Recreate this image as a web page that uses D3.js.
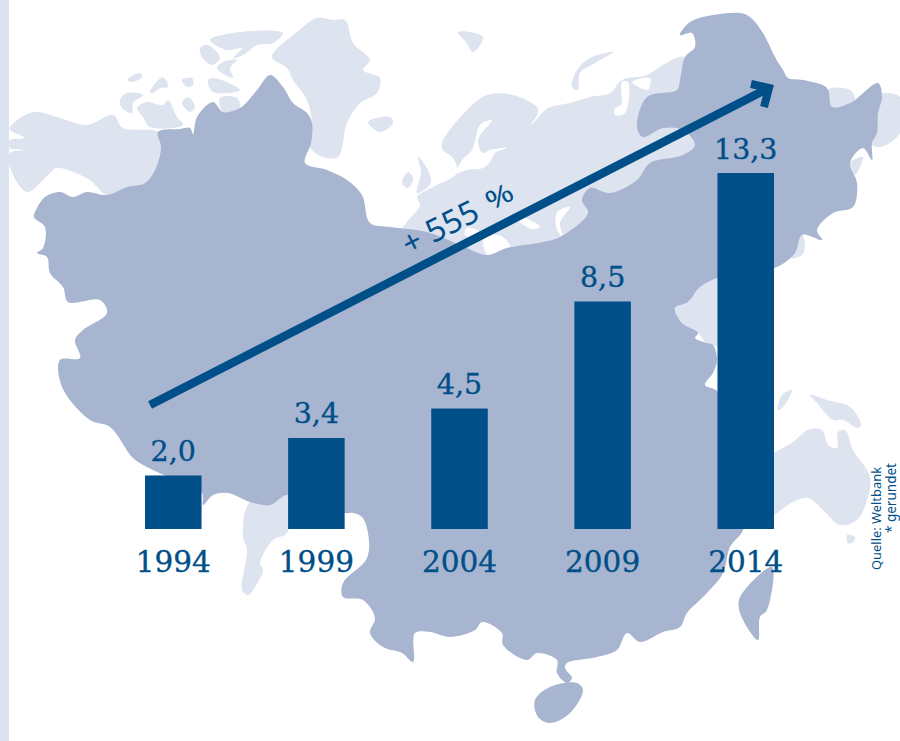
<!DOCTYPE html>
<html lang="de">
<head>
<meta charset="utf-8">
<script src="https://cdnjs.cloudflare.com/ajax/libs/d3/7.8.5/d3.min.js"></script>
<style>
  html, body { margin: 0; padding: 0; background: #fff; overflow: hidden; }
  svg { display: block; }
</style>
</head>
<body>
<script>
// Series
const years = ["1994", "1999", "2004", "2009", "2014"];
const values = [2.0, 3.4, 4.5, 8.5, 13.3];
const valueLabels = ["2,0", "3,4", "4,5", "8,5", "13,3"];
const growthValue = "+ 555";
const growthUnit = "%";
const sourceNote = "Quelle: Weltbank";
const roundingNote = "* gerundet";

// Backdrop map outlines, in page pixels
const china = [[34,217],[37,208],[45,197],[60,192],[73,197],[87,192],[107,195],[127,187],[145,183],[155,170],[161,147],[158,132],[180,129],[190,128],[193,134],[197,117],[213,102],[223,112],[240,108],[257,90],[270,75],[283,87],[293,103],[307,113],[312,123],[311,143],[305,163],[327,170],[347,180],[362,195],[370,223],[390,227],[427,232],[460,245],[487,255],[507,248],[543,242],[560,237],[588,213],[582,200],[590,188],[610,193],[637,180],[650,163],[683,155],[695,145],[683,130],[663,128],[643,137],[637,127],[647,97],[677,90],[680,80],[685,57],[695,47],[692,33],[680,35],[690,22],[713,15],[740,13],[750,17],[763,33],[775,57],[783,70],[788,78],[803,80],[827,88],[832,107],[850,103],[878,83],[882,97],[878,113],[877,133],[872,143],[872,160],[863,148],[850,163],[857,183],[853,207],[833,213],[817,230],[822,240],[802,235],[795,253],[777,267],[745,272],[717,278],[700,287],[688,302],[675,308],[682,323],[698,333],[695,338],[707,343],[713,345],[717,360],[713,373],[705,385],[718,392],[745,500],[743,530],[730,547],[723,573],[707,593],[687,613],[680,627],[663,632],[640,642],[627,633],[617,650],[597,657],[567,663],[565,668],[572,678],[567,683],[557,673],[557,660],[537,653],[527,660],[503,645],[502,633],[482,622],[475,630],[450,637],[430,632],[415,633],[413,662],[402,653],[383,647],[370,633],[375,618],[363,600],[343,597],[343,583],[367,558],[368,533],[362,517],[353,513],[345,513],[320,505],[287,495],[270,505],[250,502],[228,493],[213,495],[203,505],[202,493],[175,480],[147,467],[133,458],[110,427],[90,420],[62,387],[60,360],[80,358],[75,340],[83,330],[107,313],[100,300],[68,302],[63,287],[50,273],[47,257],[37,253],[43,248],[45,227]];
const hainan = [[535,700],[550,687],[577,683],[583,690],[570,713],[550,723],[538,717]];
const taiwan = [[772,567],[740,597],[740,613],[758,640],[760,617],[767,610]];

const neighbours = [
  // Western landmass and northern island groups
  [[10,127],[33,112],[57,117],[87,125],[113,115],[123,128],[158,132],[161,147],[155,170],[145,183],[127,187],[107,195],[97,187],[90,180],[57,168],[48,175],[27,192],[10,167],[10,153],[23,150],[10,148],[10,140],[25,138],[10,130]],
  [[272,57],[297,32],[317,18],[333,20],[345,20],[353,43],[370,60],[363,70],[380,78],[377,93],[360,103],[347,123],[338,157],[323,157],[310,147],[312,123],[307,100],[293,80],[287,68]],
  [[127,80],[140,73],[142,77],[132,82]],
  [[150,92],[163,77],[168,87],[160,88],[153,93]],
  [[182,80],[192,78],[193,85],[187,87]],
  [[120,100],[127,93],[143,95],[133,103],[132,113],[122,108]],
  [[137,108],[147,102],[163,105],[168,100],[177,117],[183,125],[150,127],[143,117]],
  [[182,103],[188,97],[195,107],[190,112]],
  [[200,48],[208,45],[220,58],[212,65],[202,57]],
  [[210,40],[240,32],[283,33],[273,43],[257,45],[243,55],[233,58],[242,48],[227,50]],
  [[223,62],[237,60],[230,68],[233,78],[217,68]],
  [[208,80],[213,78],[233,85],[240,90],[213,92]],
  [[220,98],[237,98],[240,108],[223,112]],
  [[368,122],[390,117],[393,123],[380,132]],
  [[418,157],[425,165],[431,183],[417,193],[421,172]],
  [[408,172],[402,183],[408,188],[413,178]],
  [[458,32],[483,37],[473,52],[466,42]],
  [[613,52],[590,58],[577,70],[572,87],[578,90],[580,73],[595,63]],
  // Europe and western Russia
  [[402,231],[407,222],[420,205],[417,197],[433,187],[457,173],[453,158],[443,150],[442,143],[467,110],[487,95],[513,95],[537,107],[538,113],[528,125],[518,114],[530,124],[548,108],[570,103],[590,97],[610,93],[622,80],[647,75],[663,65],[685,57],[720,100],[720,170],[690,180],[600,240],[560,245],[507,255],[487,258],[460,250],[427,238]],
  // Eastern seaboard
  [[828,90],[850,90],[855,100],[833,112]],
  [[878,95],[900,97],[900,133],[880,147],[870,143],[878,113]],
  [[850,163],[863,157],[862,162],[855,175]],
  [[802,235],[805,243],[802,255],[790,258]],
  [[717,278],[700,287],[688,302],[675,308],[682,323],[698,333],[707,343],[725,345],[725,278]],
  // Indian subcontinent
  [[250,502],[243,537],[247,550],[242,590],[248,595],[255,587],[263,570],[260,563],[273,540],[287,533],[288,495]],
  // Australia, New Guinea and Tasmania
  [[765,462],[793,442],[808,430],[822,430],[828,445],[837,448],[838,432],[845,430],[853,450],[870,477],[867,500],[857,520],[840,525],[823,510],[808,498],[793,502],[765,518]],
  [[847,535],[855,537],[852,543],[848,543]],
  [[810,395],[827,400],[850,407],[861,425],[858,428],[843,420],[833,420],[817,403]],
  [[778,410],[782,395],[792,390],[783,407]]
];

// Seas and inlets cut out of the landmass
const seas = [
  [[492,120],[478,140],[483,153],[490,150],[507,148],[495,153],[490,162],[483,168],[467,170],[457,173],[462,160],[472,150],[480,125]],
  [[557,212],[570,207],[560,223],[563,237],[557,230]],
  [[513,216],[523,217],[540,227],[532,229]],
  [[483,243],[485,236],[501,236],[510,247],[490,258]],
  [[467,228],[480,232],[478,238],[465,235]],
  [[615,115],[625,113],[628,82],[622,82],[621,105],[615,108]],
  [[632,82],[648,90],[650,78]]
];

const width = 900, height = 741;
const colours = { ink: "#004f88", china: "#a7b5d1", land: "#dde3ef", strip: "#dce3f0" };

const svg = d3.select("body").append("svg")
  .attr("width", width).attr("height", height)
  .attr("viewBox", [0, 0, width, height]);

svg.append("rect").attr("width", 9).attr("height", height).attr("fill", colours.strip);

// Map layers: land, cut-out seas, then China on top
const outline = d3.line().curve(d3.curveCatmullRomClosed.alpha(0.5));
const map = svg.append("g");
map.selectAll("path.land").data(neighbours).join("path")
  .attr("class", "land").attr("d", outline).attr("fill", colours.land);
map.selectAll("path.sea").data(seas).join("path")
  .attr("class", "sea").attr("d", outline).attr("fill", "#fff");
map.selectAll("path.china").data([china, hainan, taiwan]).join("path")
  .attr("class", "china").attr("d", outline).attr("fill", colours.china);

// Bars
const x = d3.scaleBand().domain(years).range([145, 774]).paddingInner(0.605);
const y = d3.scaleLinear().domain([0, 13.3]).range([529, 173]);
const rows = years.map((year, i) => ({ year, value: values[i], label: valueLabels[i] }));

svg.selectAll("rect.bar").data(rows).join("rect")
  .attr("class", "bar")
  .attr("x", d => x(d.year))
  .attr("y", d => y(d.value))
  .attr("width", x.bandwidth())
  .attr("height", d => y(0) - y(d.value))
  .attr("fill", colours.ink);

const serif = "'DejaVu Serif', serif";
svg.selectAll("text.value").data(rows).join("text")
  .attr("class", "value")
  .attr("x", d => x(d.year) + x.bandwidth() / 2)
  .attr("y", d => y(d.value) - 14.5)
  .attr("text-anchor", "middle")
  .attr("font-family", serif).attr("font-size", 28.5)
  .attr("fill", colours.ink).attr("stroke", colours.ink).attr("stroke-width", 0.35)
  .text(d => d.label);

// Category axis drawn without a domain line or ticks
const axis = svg.append("g")
  .attr("transform", `translate(0, 529)`)
  .call(d3.axisBottom(x).tickSize(0).tickPadding(0));
axis.select(".domain").remove();
axis.selectAll("text")
  .attr("y", 43).attr("dy", 0)
  .attr("font-family", serif).attr("font-size", 29.5)
  .attr("fill", colours.ink).attr("stroke", colours.ink).attr("stroke-width", 0.35);

// Growth arrow across the bars
const arrowStart = [150, 405], arrowEnd = [769, 88];
const angle = Math.atan2(arrowEnd[1] - arrowStart[1], arrowEnd[0] - arrowStart[0]) * 180 / Math.PI;
const arrow = svg.append("g").attr("fill", "none").attr("stroke", colours.ink);
arrow.append("path")
  .attr("d", d3.line()([arrowStart, [arrowEnd[0] - 4, arrowEnd[1] + 2]]))
  .attr("stroke-width", 8.5);
arrow.append("path")
  .attr("d", d3.line()([[751, 84], arrowEnd, [764, 107]]))
  .attr("stroke-width", 8).attr("stroke-linejoin", "miter");

svg.append("text")
  .attr("transform", `translate(409, 256) rotate(${angle})`)
  .attr("font-family", "'Noto Sans', sans-serif").attr("font-size", 32)
  .attr("fill", colours.ink).text(growthValue);
svg.append("text")
  .attr("transform", `translate(491, 211) rotate(${angle}) scale(1.3, 1)`)
  .attr("font-family", "'Noto Sans', sans-serif").attr("font-size", 26)
  .attr("fill", colours.ink).text(growthUnit);

// Vertical source notes on the right edge
const note = (text, px, py, size) => svg.append("text")
  .attr("transform", `translate(${px}, ${py}) rotate(-90)`)
  .attr("font-family", "'Noto Sans', sans-serif").attr("font-size", size)
  .attr("fill", colours.ink).text(text);
note(sourceNote, 881, 570, 12.9);
note(roundingNote, 896, 533, 13.5);
</script>
</body>
</html>
